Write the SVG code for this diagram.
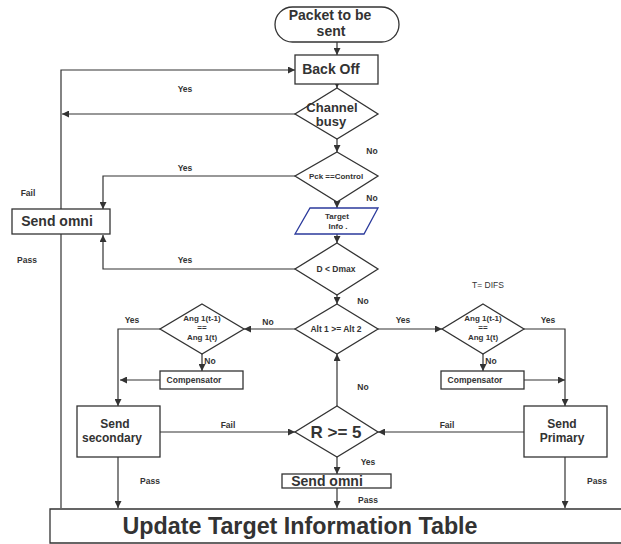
<svg xmlns="http://www.w3.org/2000/svg" width="621" height="544" viewBox="0 0 621 544">
  <defs>
    <marker id="arr" viewBox="0 0 8 8" refX="8" refY="4" markerWidth="7" markerHeight="7" markerUnits="userSpaceOnUse" orient="auto">
      <path d="M0,0 L8,4 L0,8 z" fill="#333"/>
    </marker>
  </defs>
  <style>
    .shape { fill: #fff; stroke: #333; stroke-width: 1.3; }
    .io { fill: #fff; stroke: #2b3a9c; stroke-width: 1.3; }
    .edge { fill: none; stroke: #333; stroke-width: 1.2; marker-end: url(#arr); }
    .line { fill: none; stroke: #333; stroke-width: 1.2; }
    text { font-family: "Liberation Sans", Arial, sans-serif; font-weight: bold; fill: #333; text-anchor: middle; }
    .lbl { font-size: 8.5px; }
    .big { font-size: 14px; }
    .mid { font-size: 12px; }
    .sm { font-size: 8px; }
  </style>
  <rect width="621" height="544" fill="#fff"/>

  <!-- connectors -->
  <g id="connectors">
    <path class="edge" d="M337,42 V55"/>
    <path class="edge" d="M337,84 V88"/>
    <path class="edge" d="M295,114 H62"/>
    <path class="edge" d="M61,508 V70 H295"/>
    <path class="edge" d="M337,139 V152"/>
    <path class="edge" d="M295,176 H103 V209"/>
    <path class="edge" d="M337,202 V208"/>
    <path class="edge" d="M337,234 V243"/>
    <path class="edge" d="M295,269 H103 V235"/>
    <path class="edge" d="M337,295 V304"/>
    <path class="edge" d="M295,329 H244"/>
    <path class="edge" d="M160,329 H118 V406"/>
    <path class="edge" d="M202,354 V371"/>
    <path class="edge" d="M160,380 H120"/>
    <path class="edge" d="M160,432 H295"/>
    <path class="edge" d="M337,406 V354"/>
    <path class="edge" d="M337,457 V474"/>
    <path class="edge" d="M337,488 V508"/>
    <path class="edge" d="M118,457 V508"/>
    <path class="edge" d="M378,329 H442"/>
    <path class="line" d="M524,329 H565 V380"/>
    <path class="edge" d="M565,380 V406"/>
    <path class="edge" d="M483,354 V371"/>
    <path class="edge" d="M524,380 H565"/>
    <path class="edge" d="M524,432 H378"/>
    <path class="edge" d="M565,457 V508"/>
  </g>

  <!-- connector labels -->
  <g id="labels" class="lbl">
    <text x="185" y="92">Yes</text>
    <text x="185" y="171">Yes</text>
    <text x="372" y="154">No</text>
    <text x="372" y="201">No</text>
    <text x="28" y="196">Fail</text>
    <text x="27" y="263">Pass</text>
    <text x="185" y="263">Yes</text>
    <text x="363" y="304">No</text>
    <text x="268" y="325">No</text>
    <text x="132" y="323">Yes</text>
    <text x="210" y="364">No</text>
    <text x="228" y="428">Fail</text>
    <text x="363" y="390">No</text>
    <text x="368" y="465">Yes</text>
    <text x="368" y="503">Pass</text>
    <text x="150" y="484">Pass</text>
    <text x="403" y="323">Yes</text>
    <text x="548" y="323">Yes</text>
    <text x="491" y="364">No</text>
    <text x="447" y="428">Fail</text>
    <text x="597" y="484">Pass</text>
    <text x="488" y="288" style="font-weight:normal" fill="#444">T= DIFS</text>
  </g>

  <!-- nodes -->
  <g id="start">
    <rect class="shape" x="275" y="7" width="124" height="35" rx="17.5"/>
    <text class="big" x="330" y="20">Packet to be</text>
    <text class="big" x="331" y="36">sent</text>
  </g>
  <g id="backoff">
    <rect class="shape" x="295" y="55" width="83" height="29"/>
    <text class="big" x="331" y="74">Back Off</text>
  </g>
  <g id="channel-busy">
    <polygon class="shape" points="337,88 378,114 337,139 295,114"/>
    <text x="332" y="112" style="font-size:13px">Channel</text>
    <text x="331" y="126" style="font-size:13px">busy</text>
  </g>
  <g id="pck-control">
    <polygon class="shape" points="337,152 378,176 337,202 295,176"/>
    <text class="sm" x="336" y="179">Pck ==Control</text>
  </g>
  <g id="target-info">
    <polygon class="io" points="310,208 378,208 364,234 295,234"/>
    <text class="sm" x="337" y="219">Target</text>
    <text class="sm" x="338" y="229">Info  .</text>
  </g>
  <g id="d-dmax">
    <polygon class="shape" points="337,243 378,269 337,295 295,269"/>
    <text class="lbl" x="336" y="272">D &lt; Dmax</text>
  </g>
  <g id="send-omni-left">
    <rect class="shape" x="12" y="209" width="98" height="25"/>
    <text class="big" x="57" y="226">Send omni</text>
  </g>
  <g id="alt-compare">
    <polygon class="shape" points="337,304 378,329 337,354 295,329"/>
    <text class="lbl" x="336" y="332">Alt 1 &gt;= Alt 2</text>
  </g>
  <g id="ang-left">
    <polygon class="shape" points="202,304 244,329 202,354 160,329"/>
    <text class="sm" x="202" y="321">Ang 1(t-1)</text>
    <text class="sm" x="202" y="330">==</text>
    <text class="sm" x="202" y="340">Ang 1(t)</text>
  </g>
  <g id="compensator-left">
    <rect class="shape" x="160" y="371" width="83" height="18"/>
    <text class="lbl" x="194" y="383">Compensator</text>
  </g>
  <g id="send-secondary">
    <rect class="shape" x="77" y="406" width="83" height="51"/>
    <text class="mid" x="115" y="428">Send</text>
    <text class="mid" x="112" y="442">secondary</text>
  </g>
  <g id="r-check">
    <polygon class="shape" points="337,406 378,432 337,457 295,432"/>
    <text x="336" y="438" style="font-size:17px">R &gt;= 5</text>
  </g>
  <g id="send-omni-mid">
    <rect class="shape" x="282" y="474" width="109" height="14"/>
    <text class="big" x="327" y="486">Send omni</text>
  </g>
  <g id="ang-right">
    <polygon class="shape" points="483,304 524,329 483,354 442,329"/>
    <text class="sm" x="483" y="321">Ang 1(t-1)</text>
    <text class="sm" x="483" y="330">==</text>
    <text class="sm" x="483" y="340">Ang 1(t)</text>
  </g>
  <g id="compensator-right">
    <rect class="shape" x="441" y="371" width="83" height="18"/>
    <text class="lbl" x="475" y="383">Compensator</text>
  </g>
  <g id="send-primary">
    <rect class="shape" x="524" y="406" width="83" height="51"/>
    <text class="mid" x="562" y="428">Send</text>
    <text class="mid" x="562" y="442">Primary</text>
  </g>
  <g id="update-table">
    <path d="M625,509 H50 V543 H625" fill="#fff" stroke="#333" stroke-width="1.3"/>
    <text x="300" y="534" style="font-size:23.3px">Update Target Information Table</text>
  </g>
</svg>
